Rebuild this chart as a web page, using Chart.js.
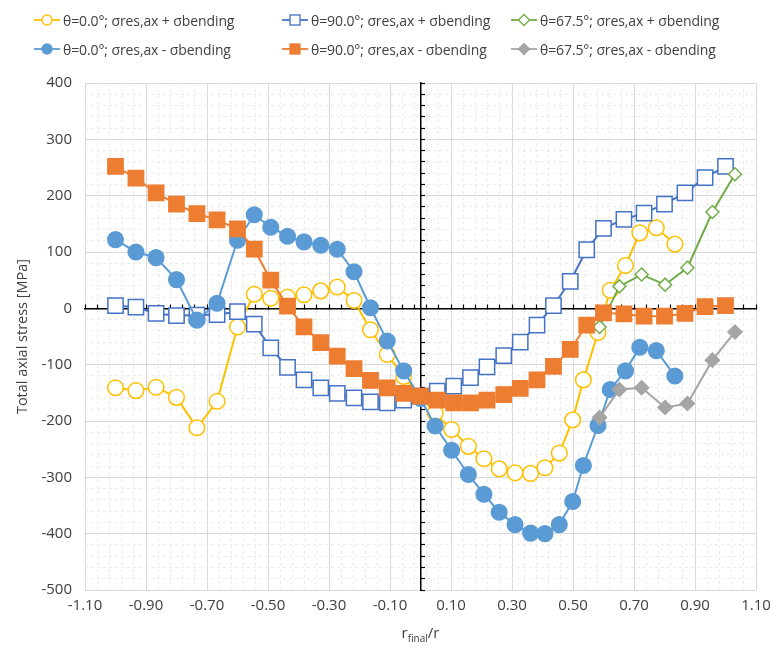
<!DOCTYPE html>
<html>
<head>
<meta charset="utf-8">
<script src="https://cdn.jsdelivr.net/npm/chart.js@4.4.1/dist/chart.umd.min.js"></script>
<style>
  html, body { margin: 0; padding: 0; background: #fff; }
  #wrap { position: relative; width: 782px; height: 650px; }
  #legend { position: absolute; left: 0; top: 0; width: 782px; height: 66px;
            font: 14px "Open Sans", sans-serif; color: #404040; letter-spacing: -0.1px; }
  .item { position: absolute; display: flex; align-items: center; white-space: nowrap; height: 18px; }
  .item svg { margin-right: 3px; }
</style>
</head>
<body>
<div id="wrap">
  <canvas id="chart" width="782" height="650"></canvas>
  <div id="legend"></div>
</div>
<script>
// r_final/r positions (theta = 90.0 series)
const xTheta90 = [-1.0, -0.933, -0.867, -0.8, -0.733, -0.667, -0.6, -0.545, -0.491, -0.436, -0.382, -0.327,
  -0.273, -0.218, -0.164, -0.109, -0.055, 0, 0.055, 0.109, 0.164, 0.218, 0.273, 0.327, 0.382, 0.436, 0.491,
  0.545, 0.6, 0.667, 0.733, 0.8, 0.867, 0.933, 1.0];
// r_final/r positions (theta = 0.0 series)
const xTheta0 = [-1.0, -0.933, -0.867, -0.8, -0.733, -0.667, -0.6, -0.545, -0.491, -0.436, -0.382, -0.327,
  -0.273, -0.218, -0.164, -0.109, -0.055, 0, 0.048, 0.102, 0.157, 0.208, 0.258, 0.31, 0.361, 0.408, 0.455,
  0.499, 0.534, 0.582, 0.622, 0.672, 0.719, 0.773, 0.834];
// r_final/r positions (theta = 67.5 series)
const xTheta675 = [0.587, 0.652, 0.725, 0.802, 0.875, 0.957, 1.031];

// stress values [MPa]
const t0Plus = [-141, -146, -140, -158, -212, -165, -33, 25, 18, 20, 24, 31, 38, 14, -38, -82, -121, -158,
  -186, -215, -245, -267, -285, -292, -293, -283, -257, -198, -127, -43, 32, 76, 134, 143, 114];
const t90Plus = [5, 2, -9, -13, -12, -11, -6, -28, -70, -105, -127, -141, -151, -159, -166, -168, -163, -156,
  -147, -138, -123, -104, -84, -60, -30, 5, 48, 104, 142, 158, 169, 185, 205, 232, 252];
const t675Plus = [-33, 39, 60, 42, 72, 171, 238];
const t0Minus = [122, 100, 90, 51, -21, 9, 121, 166, 144, 128, 118, 112, 105, 65, 1, -58, -111, -160,
  -209, -252, -295, -330, -362, -384, -399, -400, -384, -343, -279, -208, -144, -111, -69, -75, -120];
const t90Minus = [252, 231, 205, 185, 168, 157, 141, 105, 50, 4, -33, -61, -85, -107, -128, -141, -151, -156,
  -163, -168, -168, -163, -153, -142, -127, -103, -73, -30, -8, -10, -14, -14, -9, 3, 5];
const t675Minus = [-194, -144, -141, -176, -169, -92, -42];

const seriesLabels = [
  "θ=0.0°; σres,ax + σbending", "θ=90.0°; σres,ax + σbending", "θ=67.5°; σres,ax + σbending",
  "θ=0.0°; σres,ax - σbending", "θ=90.0°; σres,ax - σbending", "θ=67.5°; σres,ax - σbending"
];

const FONT = '"Open Sans", sans-serif';
const xMin = -1.1, xMax = 1.1, yMin = -500, yMax = 400;

const pts = (xs, ys) => xs.map((x, i) => ({ x, y: ys[i] }));

const series = [
  { data: pts(xTheta0, t0Plus), color: "#FFC000", fill: "#fff", style: "circle", r: 7.8 },
  { data: pts(xTheta90, t90Plus), color: "#4472C4", fill: "#fff", style: "rect", r: 10.8 },
  { data: pts(xTheta675, t675Plus), color: "#70AD47", fill: "#fff", style: "rectRot", r: 6.5 },
  { data: pts(xTheta0, t0Minus), color: "#5B9BD5", fill: "#5B9BD5", style: "circle", r: 7.8 },
  { data: pts(xTheta90, t90Minus), color: "#ED7D31", fill: "#ED7D31", style: "rect", r: 10.8 },
  { data: pts(xTheta675, t675Minus), color: "#A5A5A5", fill: "#A5A5A5", style: "rectRot", r: 7 }
];

const datasets = series.map((s, i) => ({
  label: seriesLabels[i],
  data: s.data,
  xAxisID: "x", yAxisID: "y",
  showLine: true,
  borderColor: s.color,
  borderWidth: 2,
  pointStyle: s.style,
  pointRadius: s.r,
  pointBackgroundColor: s.fill,
  pointBorderColor: s.color,
  pointBorderWidth: 1.5,
  order: series.length - i
}));

// x-axis title with subscript
const xTitle = {
  id: "xTitle",
  afterDraw(chart) {
    const { ctx, chartArea } = chart;
    const cx = (chartArea.left + chartArea.right) / 2;
    const y = chart.height - 12;
    ctx.save();
    ctx.fillStyle = "#404040";
    ctx.textBaseline = "alphabetic";
    ctx.font = "15px " + FONT;
    const w1 = ctx.measureText("r").width, w3 = ctx.measureText("/r").width;
    ctx.font = "10px " + FONT;
    const w2 = ctx.measureText("final").width;
    let x = cx - (w1 + w2 + w3) / 2;
    ctx.font = "15px " + FONT;
    ctx.fillText("r", x, y); x += w1;
    ctx.font = "10px " + FONT;
    ctx.fillText("final", x, y + 4); x += w2;
    ctx.font = "15px " + FONT;
    ctx.fillText("/r", x, y);
    ctx.restore();
  }
};

const tickFont = { family: FONT, size: 15 };

new Chart(document.getElementById("chart").getContext("2d"), {
  type: "scatter",
  data: { datasets },
  plugins: [xTitle],
  options: {
    responsive: false,
    animation: false,
    layout: { padding: { left: 0, top: 83, right: 26, bottom: 0 } },
    plugins: { legend: { display: false }, tooltip: { enabled: false } },
    scales: {
      x: {
        type: "linear", axis: "x", position: "bottom", min: xMin, max: xMax,
        afterFit: s => { s.height = 60; },
        ticks: { stepSize: 0.2, padding: 7, color: "#404040", font: tickFont, callback: v => v.toFixed(2) },
        grid: { color: "#d9d9d9", drawTicks: false },
        border: { display: false }
      },
      y: {
        type: "linear", axis: "y", position: "left", min: yMin, max: yMax,
        afterFit: s => { s.width = 85; },
        ticks: { stepSize: 100, padding: 13, color: "#404040", font: tickFont },
        grid: { color: "#d9d9d9", drawTicks: false },
        border: { display: false },
        title: { display: true, text: "Total axial stress [MPa]", color: "#404040",
                 font: { family: FONT, size: 14.5 }, padding: { top: 14, bottom: 0 } }
      },
      xMinor: {
        type: "linear", axis: "x", position: "bottom", min: xMin, max: xMax,
        afterFit: s => { s.height = 0; },
        ticks: { display: false, stepSize: 0.04, maxTicksLimit: 100, autoSkip: false },
        grid: { color: c => (c.index % 5 ? "#ebebeb" : "rgba(0,0,0,0)"), drawTicks: false },
        border: { display: false, dash: [3, 3] }
      },
      yMinor: {
        type: "linear", axis: "y", position: "left", min: yMin, max: yMax,
        afterFit: s => { s.width = 0; },
        ticks: { display: false, stepSize: 20, maxTicksLimit: 100, autoSkip: false },
        grid: { color: c => (c.index % 5 ? "#ebebeb" : "rgba(0,0,0,0)"), drawTicks: false },
        border: { display: false, dash: [3, 3] }
      },
      xZero: {
        type: "linear", axis: "x", position: { y: 0 }, min: xMin, max: xMax,
        ticks: { display: false, stepSize: 0.04, maxTicksLimit: 100, autoSkip: false },
        grid: { drawOnChartArea: false, drawTicks: true, tickLength: -5, tickColor: "#000", tickWidth: 1.2 },
        border: { color: "#000", width: 1.5 }
      },
      yZero: {
        type: "linear", axis: "y", position: { x: 0 }, min: yMin, max: yMax,
        ticks: { display: false, stepSize: 20, maxTicksLimit: 100, autoSkip: false },
        grid: { drawOnChartArea: false, drawTicks: true, tickLength: -5, tickColor: "#000", tickWidth: 1.2 },
        border: { color: "#000", width: 1.5 }
      }
    }
  }
});

// legend (3 columns x 2 rows)
const legendCols = [34, 282, 511];
const legendRows = [11, 40];
const legendEl = document.getElementById("legend");
series.forEach((s, i) => {
  const col = i % 3, row = Math.floor(i / 3);
  let mark = "";
  if (s.style === "circle") mark = `<circle cx="13" cy="9" r="5" fill="${s.fill}" stroke="${s.color}" stroke-width="1.3"/>`;
  else if (s.style === "rect") mark = `<rect x="8" y="4" width="10" height="10" fill="${s.fill}" stroke="${s.color}" stroke-width="1.3"/>`;
  else mark = `<polygon points="13,3.5 18.5,9 13,14.5 7.5,9" fill="${s.fill}" stroke="${s.color}" stroke-width="1.3"/>`;
  const div = document.createElement("div");
  div.className = "item";
  div.style.left = legendCols[col] + "px";
  div.style.top = legendRows[row] + "px";
  div.innerHTML = `<svg width="26" height="18"><line x1="0" y1="9" x2="26" y2="9" stroke="${s.color}" stroke-width="1.8"/>${mark}</svg><span>${seriesLabels[i]}</span>`;
  legendEl.appendChild(div);
});
</script>
</body>
</html>
